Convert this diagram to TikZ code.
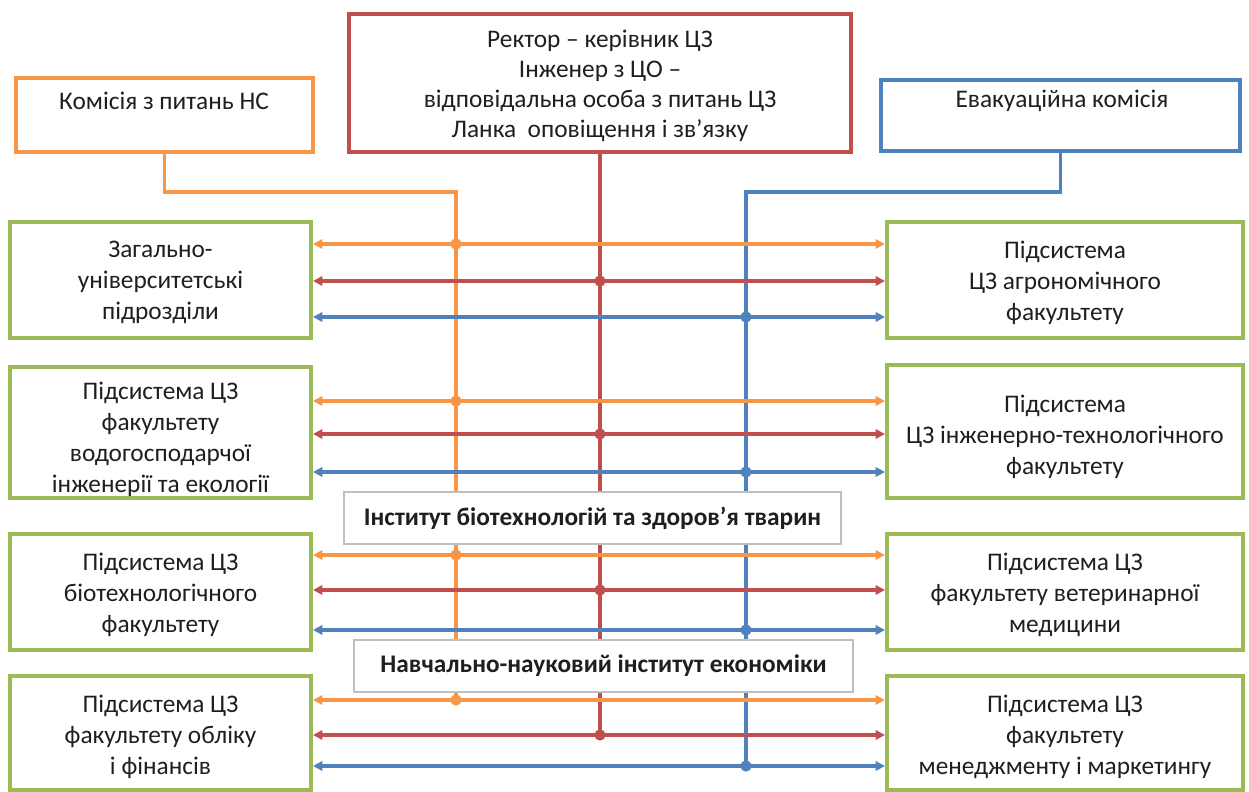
\documentclass[tikz,border=0pt]{standalone}
\usepackage{fontspec}
\setmainfont{Carlito}
\usetikzlibrary{arrows.meta,fit}
\definecolor{cor}{HTML}{F79646}
\definecolor{cred}{HTML}{C0504D}
\definecolor{cblu}{HTML}{4F81BD}
\definecolor{cgrn}{HTML}{9BBB59}
\definecolor{cgry}{HTML}{BFBFBF}
\begin{document}
\begin{tikzpicture}[x=0.75pt,y=-0.75pt,
  box/.style={draw, line width=3pt, inner sep=0pt, fill=white},
  gbox/.style={box, draw=cgrn},
  lbox/.style={draw=cgry, line width=0.9pt, inner sep=0pt, fill=white},
  txt/.style={align=center, font=\fontsize{19}{23.3}\selectfont, text=black!88, inner sep=0pt},
  btxt/.style={txt, font=\fontsize{19}{23.3}\selectfont\bfseries},
  vline/.style={line width=2.6pt},
  harr/.style={line width=2.6pt, {Triangle[length=7pt,width=7pt]}-{Triangle[length=7pt,width=7pt]}},
  jdot/.style={circle, inner sep=0pt, minimum size=8.5pt},
]
\useasboundingbox (0,0) rectangle (1249,792);
% top boxes
\node[box, draw=cor, fit={(16,78)(313,152)}] (kom) {};
\node[box, draw=cred, fit={(349,14)(851,152)}] (rec) {};
\node[box, draw=cblu, fit={(881,80)(1240,151)}] (eva) {};
\node[txt] (komt) at (164,101) {Комісія з питань НС};
\node[txt, font=\fontsize{19}{22.6}\selectfont] (rect) at (600,86) {Ректор – керівник ЦЗ\\Інженер з ЦО –\\відповідальна особа з питань ЦЗ\\Ланка\ \ оповіщення і зв’язку};
\node[txt] (evat) at (1062,101) {Евакуаційна комісія};
% green boxes
\node[gbox, fit={(10,222)(311,338)}] (l1) {};
\node[gbox, fit={(10,367)(311,498)}] (l2) {};
\node[gbox, fit={(10,534)(311,650)}] (l3) {};
\node[gbox, fit={(10,676)(311,790)}] (l4) {};
\node[gbox, fit={(887,222)(1243,338)}] (r1) {};
\node[gbox, fit={(887,365)(1243,498)}] (r2) {};
\node[gbox, fit={(887,534)(1243,650)}] (r3) {};
\node[gbox, fit={(887,676)(1243,790)}] (r4) {};
\node[txt] (l1t) at ([yshift=-2]l1.center) {Загально-\\університетські\\підрозділи};
\node[txt] (l2t) at ([yshift=-5]l2.center) {Підсистема ЦЗ\\факультету\\водогосподарчої\\інженерії та екології};
\node[txt] (l3t) at ([yshift=-2]l3.center) {Підсистема ЦЗ\\біотехнологічного\\факультету};
\node[txt] (l4t) at ([yshift=-3]l4.center) {Підсистема ЦЗ\\факультету обліку\\і фінансів};
\node[txt] (r1t) at ([yshift=-2]r1.center) {Підсистема\\ЦЗ агрономічного\\факультету};
\node[txt] (r2t) at ([yshift=-4]r2.center) {Підсистема\\ЦЗ інженерно-технологічного\\факультету};
\node[txt] (r3t) at ([yshift=-2]r3.center) {Підсистема ЦЗ\\факультету ветеринарної\\медицини};
\node[txt] (r4t) at ([yshift=-3]r4.center) {Підсистема ЦЗ\\факультету\\менеджменту і маркетингу};
% vertical trunks
\coordinate (oj) at (456,192);
\coordinate (oe) at (456,700);
\coordinate (re) at (600,735);
\coordinate (bj) at (746,192);
\coordinate (be) at (746,766);
\draw[vline, cor] (kom.south) |- (oj) -- (oe);
\draw[vline, cred] (rec.south) -- (re);
\draw[vline, cblu] (eva.south) |- (bj) -- (be);
% horizontal arrows
\foreach \l/\r/\ya/\yb/\yc in {l1/r1/244/281/317, l2/r2/401/434/472, l3/r3/555/590/630, l4/r4/700/735/766} {
  \draw[harr, cor] (\l.east |- 0,\ya) -- (\r.west |- 0,\ya);
  \draw[harr, cred] (\l.east |- 0,\yb) -- (\r.west |- 0,\yb);
  \draw[harr, cblu] (\l.east |- 0,\yc) -- (\r.west |- 0,\yc);
  \node[jdot, fill=cor] at (456,\ya) {};
  \node[jdot, fill=cred] at (600,\yb) {};
  \node[jdot, fill=cblu] at (746,\yc) {};
}
% institute labels
\node[lbox, fit={(344,492)(841,544)}] (ib) {};
\node[btxt] (ibt) at (ib.center) {Інститут біотехнологій та здоров’я тварин};
\node[lbox, fit={(354,640)(853,692)}] (ie) {};
\node[btxt] (iet) at (ie.center) {Навчально-науковий інститут економіки};
\end{tikzpicture}
\end{document}
